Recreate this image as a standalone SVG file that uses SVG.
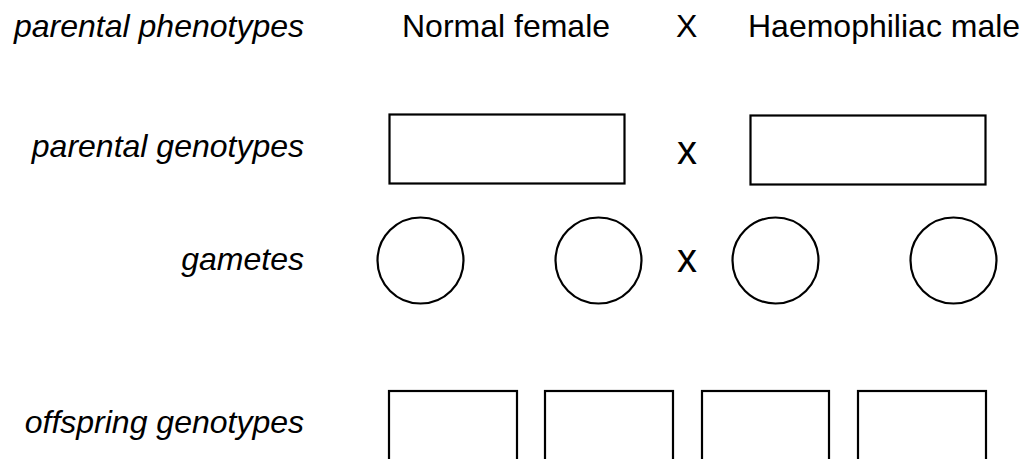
<svg xmlns="http://www.w3.org/2000/svg" width="1021" height="459" viewBox="0 0 1021 459">
  <style>
    .lbl { font-family: "Liberation Sans", Arial, sans-serif; font-size: 32px; font-style: italic; fill: #000; text-anchor: end; }
    .txt { font-family: "Liberation Sans", Arial, sans-serif; font-size: 32px; fill: #000; }
    .cross { font-family: "Liberation Sans", Arial, sans-serif; font-size: 40px; fill: #000; text-anchor: middle; }
    .box { fill: #fff; stroke: #000; stroke-width: 2.2; }
  </style>
  <rect width="1021" height="459" fill="#fff"/>

  <!-- row labels -->
  <g id="labels">
    <text class="lbl" x="304" y="37">parental phenotypes</text>
    <text class="lbl" x="304" y="157">parental genotypes</text>
    <text class="lbl" x="304" y="270">gametes</text>
    <text class="lbl" x="304" y="433">offspring genotypes</text>
  </g>

  <!-- phenotypes row -->
  <g id="phenotypes">
    <text class="txt" x="402" y="37">Normal female</text>
    <text class="txt" x="676" y="37">X</text>
    <text class="txt" x="748" y="37">Haemophiliac male</text>
  </g>

  <!-- parental genotype boxes -->
  <g id="mother-genotype"><rect class="box" x="389.5" y="114.5" width="235" height="69"/></g>
  <text class="cross" x="687" y="164">x</text>
  <g id="father-genotype"><rect class="box" x="750.5" y="115.5" width="235" height="69"/></g>

  <!-- gametes -->
  <g id="gamete-1"><circle class="box" cx="420.5" cy="260.5" r="43"/></g>
  <g id="gamete-2"><circle class="box" cx="598.5" cy="260.5" r="43"/></g>
  <text class="cross" x="687" y="272">x</text>
  <g id="gamete-3"><circle class="box" cx="775.5" cy="260.5" r="43"/></g>
  <g id="gamete-4"><circle class="box" cx="953.5" cy="260.5" r="43"/></g>

  <!-- offspring genotype boxes (run past the lower edge) -->
  <g id="offspring-1"><rect class="box" x="389" y="391" width="128" height="90"/></g>
  <g id="offspring-2"><rect class="box" x="545" y="391" width="128" height="90"/></g>
  <g id="offspring-3"><rect class="box" x="702" y="391" width="127" height="90"/></g>
  <g id="offspring-4"><rect class="box" x="858" y="391" width="128" height="90"/></g>
</svg>
